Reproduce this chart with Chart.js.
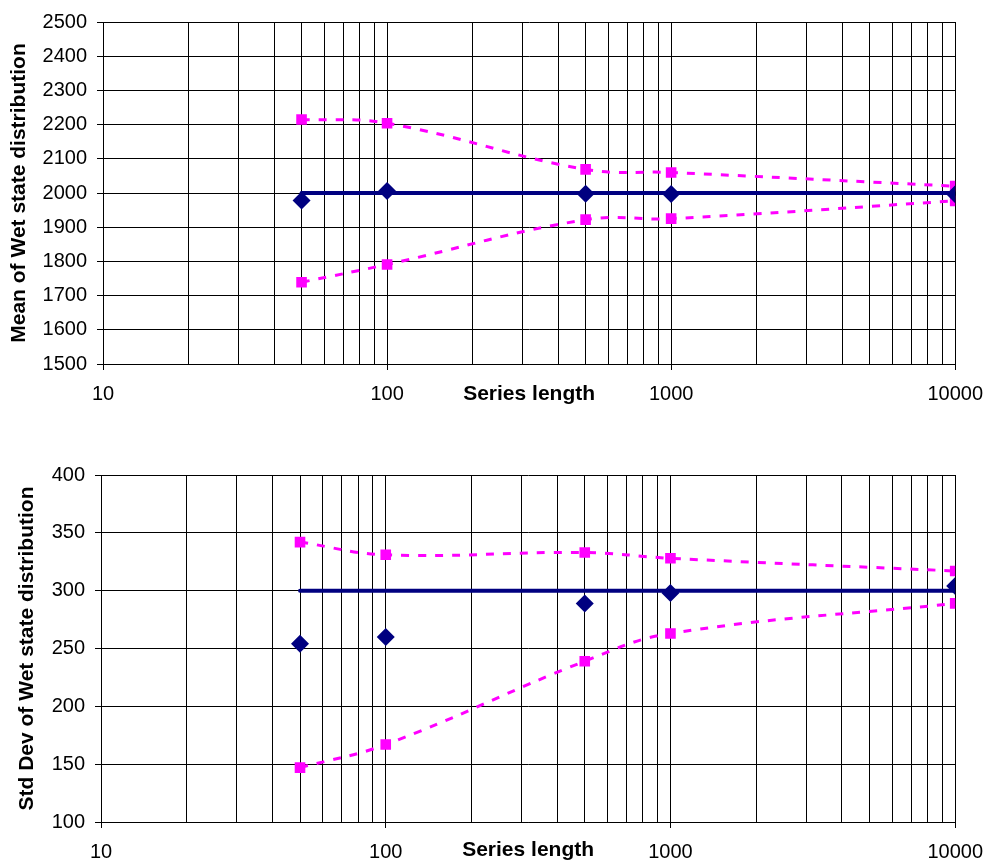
<!DOCTYPE html>
<html>
<head>
<meta charset="utf-8">
<title>Wet state distribution vs series length</title>
<script src="https://cdn.jsdelivr.net/npm/chart.js@4.4.1/dist/chart.umd.min.js"></script>
<style>
  body { margin: 0; background: #fff; }
  canvas { display: block; }
</style>
</head>
<body>
<canvas id="chartMean" width="995" height="430"></canvas>
<canvas id="chartStd" width="995" height="434"></canvas>
<script>
// series lengths
const seriesLength = [50, 100, 500, 1000, 10000];
const theoryX = [50, 10000];
const xTicks = [10, 20, 30, 40, 50, 60, 70, 80, 90,
  100, 200, 300, 400, 500, 600, 700, 800, 900,
  1000, 2000, 3000, 4000, 5000, 6000, 7000, 8000, 9000, 10000];

// mean of wet state distribution
const meanSim = [1978, 2006, 1998, 1997, 1996];
const meanUpper = [2215, 2204, 2069, 2060, 2020];
const meanLower = [1739, 1791, 1922, 1925, 1977];
const meanTheory = [2000, 2000];

// std dev of wet state distribution
const stdSim = [254, 260, 289, 298, 304];
const stdUpper = [342, 331, 333, 328, 317];
const stdLower = [147, 167, 239, 263, 289];
const stdTheory = [300, 300];

Chart.defaults.font.family = '"Liberation Sans", Arial, sans-serif';
Chart.defaults.color = "#000";

const navy = "#000080";
const magenta = "#FF00FF";

function pts(xs, ys) {
  return xs.map((x, i) => ({ x: x, y: ys[i] }));
}

function isDecade(v) {
  const l = Math.log10(v);
  return Math.abs(l - Math.round(l)) < 1e-9;
}

function makeChart(id, cfg) {
  const canvas = document.getElementById(id);
  return new Chart(canvas, {
    type: "scatter",
    data: {
      datasets: [
        {
          data: pts(seriesLength, cfg.sim),
          showLine: false,
          pointStyle: "rectRot",
          pointRadius: 9,
          backgroundColor: navy,
          borderColor: navy,
          borderWidth: 0,
        },
        {
          data: pts(theoryX, cfg.theory),
          showLine: true,
          borderColor: navy,
          borderWidth: 4,
          borderCapStyle: "round",
          pointRadius: 0,
        },
        {
          data: pts(seriesLength, cfg.upper),
          showLine: true,
          tension: 0.4,
          borderColor: magenta,
          borderWidth: 3,
          borderDash: [8, 9],
          pointStyle: "rect",
          pointRadius: 7.5,
          backgroundColor: magenta,
          pointBorderWidth: 0,
        },
        {
          data: pts(seriesLength, cfg.lower),
          showLine: true,
          tension: 0.4,
          borderColor: magenta,
          borderWidth: 3,
          borderDash: [8, 9],
          pointStyle: "rect",
          pointRadius: 7.5,
          backgroundColor: magenta,
          pointBorderWidth: 0,
        },
      ],
    },
    options: {
      responsive: false,
      animation: false,
      layout: { padding: cfg.padding },
      plugins: {
        legend: { display: false },
        tooltip: { enabled: false },
      },
      scales: {
        x: {
          type: "logarithmic",
          min: 10,
          max: 10000,
          afterBuildTicks: (scale) => {
            scale.ticks = xTicks.map((v) => ({ value: v, major: isDecade(v) }));
          },
          afterFit: (scale) => {
            scale.height = cfg.xHeight;
          },
          grid: {
            color: "#000",
            lineWidth: 1,
            tickLength: 6,
            tickColor: (ctx) => (ctx.tick && isDecade(ctx.tick.value) ? "#000" : "rgba(0,0,0,0)"),
          },
          border: { color: "#000", width: 1 },
          ticks: {
            autoSkip: false,
            maxRotation: 0,
            padding: 12,
            font: { size: 20 },
            callback: (v) => (isDecade(v) ? String(v) : ""),
          },
          title: {
            display: true,
            text: "Series length",
            font: { size: 21, weight: "bold" },
            padding: { top: 0, bottom: cfg.xTitlePad },
          },
        },
        y: {
          min: cfg.yMin,
          max: cfg.yMax,
          afterFit: (scale) => {
            scale.width = cfg.yWidth;
          },
          grid: { color: "#000", lineWidth: 1, tickLength: 6 },
          border: { color: "#000", width: 1 },
          ticks: {
            stepSize: cfg.yStep,
            padding: 10,
            font: { size: 20 },
            callback: (v) => String(v),
          },
          title: {
            display: true,
            text: cfg.yTitle,
            font: { size: 21, weight: "bold" },
            padding: { top: cfg.yTitlePad, bottom: 0 },
          },
        },
      },
    },
  });
}

makeChart("chartMean", {
  sim: meanSim,
  upper: meanUpper,
  lower: meanLower,
  theory: meanTheory,
  yMin: 1500,
  yMax: 2500,
  yStep: 100,
  yTitle: "Mean of Wet state distribution",
  padding: { top: 19, right: 37, left: 0, bottom: 0 },
  yWidth: 103,
  xHeight: 66,
  xTitlePad: 23,
  yTitlePad: 7,
});

makeChart("chartStd", {
  sim: stdSim,
  upper: stdUpper,
  lower: stdLower,
  theory: stdTheory,
  yMin: 100,
  yMax: 400,
  yStep: 50,
  yTitle: "Std Dev of Wet state distribution",
  padding: { top: 45, right: 30, left: 0, bottom: 0 },
  yWidth: 101,
  xHeight: 42,
  xTitlePad: 1,
  yTitlePad: 15,
});
</script>
</body>
</html>
